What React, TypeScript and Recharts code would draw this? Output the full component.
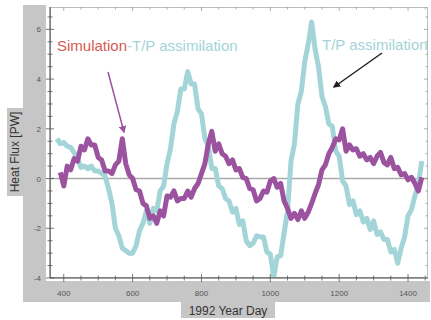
import React from "react";
import { LineChart, Line, XAxis, YAxis, ReferenceLine } from "recharts";

// 1992 year day, every 10 days
const days = [
  380, 390, 400, 410, 420, 430, 440, 450, 460, 470, 480, 490, 500, 510, 520, 530, 540, 550, 560, 570,
  580, 590, 600, 610, 620, 630, 640, 650, 660, 670, 680, 690, 700, 710, 720, 730, 740, 750, 760, 770,
  780, 790, 800, 810, 820, 830, 840, 850, 860, 870, 880, 890, 900, 910, 920, 930, 940, 950, 960, 970,
  980, 990, 1000, 1010, 1020, 1030, 1040, 1050, 1060, 1070, 1080, 1090, 1100, 1110, 1120, 1130, 1140, 1150, 1160, 1170,
  1180, 1190, 1200, 1210, 1220, 1230, 1240, 1250, 1260, 1270, 1280, 1290, 1300, 1310, 1320, 1330, 1340, 1350, 1360, 1370,
  1380, 1390, 1400, 1410, 1420, 1430, 1440,
];

// heat flux [PW], model run
const simulation = [
  null, 0.25, -0.3, 0.5, 0.35, 0.8, 0.7, 1.3, 1.15, 1.6, 1.35, 1.35, 0.85, 0.75, 0.3, 0.3, 0.2, 0.55, 0.7, 1.6,
  0.6, 0.15, 0.0, -0.45, -0.5, -1.0, -1.1, -1.6, -1.5, -1.8, -1.3, -1.5, -0.7, -0.75, -0.5, -0.9, -0.8, -0.8, -0.5, -0.75,
  -0.4, -0.2, 0.2, 0.6, 1.4, 1.9, 1.1, 1.4, 1.0, 0.9, 0.6, 0.75, 0.35, 0.4, 0.05, 0.0, -0.4, -0.45, -0.9, -0.8,
  -0.5, -0.55, -0.1, 0.0, -0.35, -0.2, -0.9, -1.2, -1.6, -1.4, -1.65, -1.3, -1.6, -1.35, -1.0, -0.6, -0.25, 0.35, 0.55, 1.0,
  1.25, 1.6, 1.55, 2.0, 1.1, 1.35, 1.15, 1.2, 0.9, 1.0, 0.75, 0.85, 0.6, 0.9, 1.05, 0.65, 0.55, 0.85, 0.4, 0.45,
  0.15, 0.2, -0.05, 0.05, -0.2, -0.5, 0.05,
];

// heat flux [PW], T/P assimilation
const assimilation = [
  1.6, 1.4, 1.45, 1.3, 1.25, 1.05, 0.8, 0.45, 0.5, 0.4, 0.5, 0.3, 0.3, 0.2, 0.1, -0.4, -1.0, -2.0, -2.3, -2.8,
  -2.9, -3.0, -3.0, -2.7, -2.1, -1.8, -1.3, -1.8, -1.2, -1.3, -0.5, -0.3, 0.6, 1.2, 2.2, 2.7, 3.6, 3.6, 4.3, 3.8,
  3.8, 2.8, 2.6, 1.6, 1.3, 0.4, 0.4, -0.3, -0.4, -0.8, -0.9, -1.35, -1.2, -1.85, -1.7, -2.5, -2.7, -2.6, -2.3, -2.35,
  -2.35, -2.95, -3.05, -3.95, -3.15, -3.1, -2.2, -1.3, 0.7, 1.4, 3.0, 3.5, 4.7, 5.4, 6.3, 5.2, 4.5, 3.3, 2.9, 2.2,
  2.1, 1.1, 0.9, -0.1, -0.3, -1.05, -0.9, -1.45, -1.3, -1.75, -1.6, -2.05, -1.7, -2.25, -2.15, -2.45, -2.45, -2.95, -2.85, -3.4,
  -2.8, -2.35, -1.5, -1.25, -0.7, -0.25, 0.7,
];

const xTicks = [400, 450, 500, 550, 600, 650, 700, 750, 800, 850, 900, 950, 1000, 1050, 1100, 1150, 1200, 1250, 1300, 1350, 1400, 1450];
const xLabels = [400, 600, 800, 1000, 1200, 1400];
const yTicks = [-4, -3.5, -3, -2.5, -2, -1.5, -1, -0.5, 0, 0.5, 1, 1.5, 2, 2.5, 3, 3.5, 4, 4.5, 5, 5.5, 6, 6.5];
const yLabels = [-4, -2, 0, 2, 4, 6];

const data = days.map((d, i) => ({ day: d, sim: simulation[i], tp: assimilation[i] }));

const W = 431;
const H = 320;
const LEFT = 50;
const RIGHT = 428;
const TOP = 7;
const BOTTOM = 278;
const GRAY = "#c6c6c6";
const PURPLE = "#9b529f";
const CYAN = "#a3d4d7";
const FONT = "'Liberation Sans', Arial, sans-serif";

const YTick = (props: any) => {
  const { y, payload } = props;
  const major = yLabels.includes(payload.value);
  const len = major ? 4 : 2.5;
  return (
    <g>
      <line x1={LEFT - len} x2={LEFT + len} y1={y} y2={y} stroke="#555" strokeWidth={0.8} />
      <line x1={RIGHT - len} x2={RIGHT} y1={y} y2={y} stroke="#999" strokeWidth={0.8} />
      {major && (
        <text x={LEFT - 9} y={y + 3} textAnchor="end" fontSize={8} fill="#555" fontFamily={FONT}>
          {payload.value}
        </text>
      )}
    </g>
  );
};

const XTick = (props: any) => {
  const { x, payload } = props;
  const major = xLabels.includes(payload.value);
  const len = major ? 4 : 2.5;
  return (
    <g>
      <line x1={x} x2={x} y1={BOTTOM - len} y2={BOTTOM + len} stroke="#555" strokeWidth={0.8} />
      <line x1={x} x2={x} y1={TOP} y2={TOP + len} stroke="#999" strokeWidth={0.8} />
      {major && (
        <text x={x} y={BOTTOM + 18} textAnchor="middle" fontSize={8} fill="#555" fontFamily={FONT}>
          {payload.value}
        </text>
      )}
    </g>
  );
};

export default function App() {
  return (
    <div style={{ position: "absolute", left: 0, top: 0, width: W, height: H, background: "#fff", fontFamily: FONT }}>
      {/* gray panels behind the plot */}
      <div style={{ position: "absolute", left: 23, top: 5, width: 23, height: 297, background: GRAY }} />
      <div style={{ position: "absolute", left: 23, top: 281, width: 407, height: 21, background: GRAY }} />
      <div style={{ position: "absolute", left: 181, top: 302, width: 94, height: 16, background: GRAY }} />
      <div style={{ position: "absolute", left: 7, top: 108, width: 16, height: 88, background: GRAY }} />
      <div style={{ position: "absolute", left: 46, top: 5, width: 384, height: 276, background: "#fff" }} />
      <div style={{ position: "absolute", left: LEFT, top: TOP, width: RIGHT - LEFT, height: BOTTOM - TOP, border: "1px solid #bbb", boxSizing: "border-box" }} />

      <div style={{ position: "absolute", left: 0, top: 0 }}>
        <LineChart width={W} height={H} data={data} margin={{ top: TOP, right: W - RIGHT, bottom: 0, left: 0 }}>
          <XAxis
            dataKey="day"
            type="number"
            domain={[360, 1458]}
            ticks={xTicks}
            interval={0}
            tick={XTick}
            tickLine={false}
            axisLine={{ stroke: "#444", strokeWidth: 1 }}
            height={H - BOTTOM}
          />
          <YAxis
            type="number"
            domain={[-4, 6.9]}
            ticks={yTicks}
            interval={0}
            tick={YTick}
            tickLine={false}
            axisLine={{ stroke: "#444", strokeWidth: 1 }}
            width={LEFT}
            allowDataOverflow
          />
          <ReferenceLine y={0} stroke="#aaa" strokeWidth={1.5} />
          <Line dataKey="tp" type="linear" stroke={CYAN} strokeWidth={5} strokeLinejoin="round" dot={false} isAnimationActive={false} />
          <Line dataKey="sim" type="linear" stroke={PURPLE} strokeWidth={5} strokeLinejoin="round" dot={false} isAnimationActive={false} />
        </LineChart>
      </div>

      <svg width={W} height={H} style={{ position: "absolute", left: 0, top: 0, pointerEvents: "none" }}>
        <defs>
          <marker id="headP" viewBox="0 0 10 10" refX="8" refY="5" markerWidth="5" markerHeight="5" orient="auto">
            <path d="M0,0 L10,5 L0,10 z" fill={PURPLE} />
          </marker>
          <marker id="headK" viewBox="0 0 10 10" refX="8" refY="5" markerWidth="5" markerHeight="5" orient="auto">
            <path d="M0,0 L10,5 L0,10 z" fill="#222" />
          </marker>
        </defs>
        <text x={57} y={51} fontSize={15} fontFamily={FONT}>
          <tspan fill="#d55a52">Simulation</tspan>
          <tspan fill={CYAN}>-T/P assimilation</tspan>
        </text>
        <text x={322} y={50} fontSize={15} fill={CYAN} fontFamily={FONT}>
          T/P assimilation
        </text>
        <line x1={108} y1={72} x2={124} y2={132} stroke={PURPLE} strokeWidth={1.5} markerEnd="url(#headP)" />
        <line x1={382} y1={53} x2={334} y2={87} stroke="#222" strokeWidth={1.5} markerEnd="url(#headK)" />
        <text
          x={19}
          y={152}
          transform="rotate(-90 19 152)"
          textAnchor="middle"
          fontSize={12}
          fill="#333"
          fontFamily={FONT}
        >
          Heat Flux [PW]
        </text>
        <text x={228} y={315} textAnchor="middle" fontSize={12} fill="#333" fontFamily={FONT}>
          1992 Year Day
        </text>
      </svg>
    </div>
  );
}
